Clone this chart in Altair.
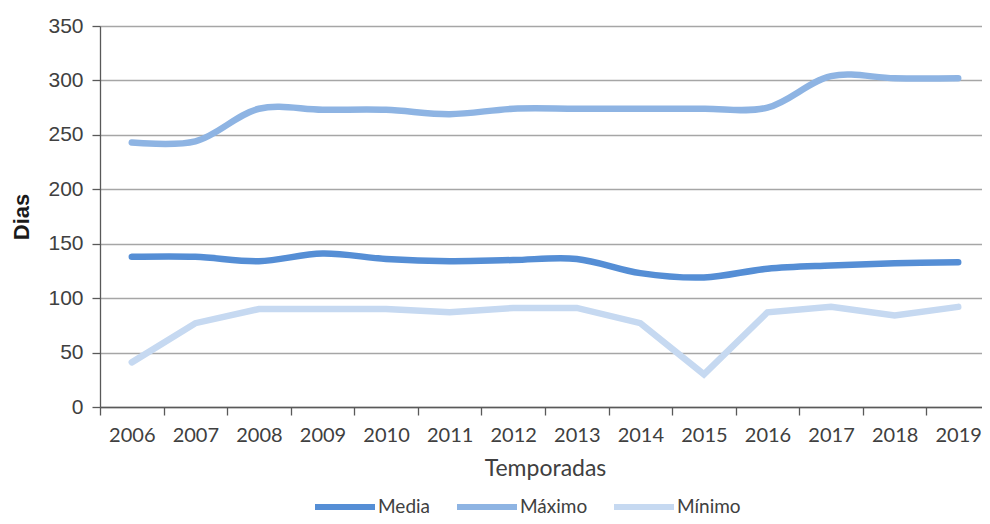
import altair as alt
import pandas as pd

years = [str(y) for y in range(2006, 2020)]
media = [138, 138, 134, 141, 136, 134, 135, 136, 123, 119, 127, 130, 132, 133]
maximo = [243, 244, 274, 273, 273, 269, 274, 274, 274, 274, 275, 304, 302, 302]
minimo = [41, 77, 90, 90, 90, 87, 91, 91, 77, 30, 87, 92, 84, 92]
series = ["Media", "Máximo", "Mínimo"]
colors = ["#558ED5", "#8EB4E3", "#C6D9F1"]
y_ticks = [0, 50, 100, 150, 200, 250, 300, 350]

rows = []
for name, vals in zip(series, [media, maximo, minimo]):
    for yr, v in zip(years, vals):
        rows.append({"Temporada": yr, "Serie": name, "Dias": v})
df = pd.DataFrame(rows)

color = alt.Color(
    "Serie:N",
    scale=alt.Scale(domain=series, range=colors),
    sort=series,
    legend=alt.Legend(
        title=None,
        orient="none",
        direction="horizontal",
        legendX=212,
        legendY=448,
        symbolType="stroke",
        symbolSize=3600,
        symbolStrokeWidth=6,
        labelFont="Lato",
        labelFontSize=19,
        labelColor="#404040",
        labelOffset=0,
        columnPadding=14,
        padding=0,
    ),
)

x = alt.X(
    "Temporada:N",
    sort=years,
    scale=alt.Scale(paddingInner=0, paddingOuter=0),
    axis=alt.Axis(
        title="Temporadas",
        labelAngle=0,
        tickBand="extent",
        tickSize=8,
        tickColor="#595959",
        domainColor="#595959",
        domainWidth=1.3,
        tickWidth=1.3,
        labelFont="Lato",
        labelFontSize=20,
        labelColor="#404040",
        labelPadding=10,
        titleFont="Lato",
        titleFontSize=23,
        titleFontWeight="normal",
        titleColor="#404040",
        titlePadding=12,
        grid=False,
    ),
)

y = alt.Y(
    "Dias:Q",
    scale=alt.Scale(domain=[0, 350], nice=False),
    axis=alt.Axis(
        title="Dias",
        values=y_ticks,
        tickSize=8,
        tickColor="#595959",
        domainColor="#595959",
        domainWidth=1.3,
        tickWidth=1.3,
        labelFont="Liberation Sans",
        labelFontSize=21,
        labelColor="#404040",
        labelPadding=9,
        titleFont="Liberation Sans",
        titleFontSize=22,
        titleFontWeight="bold",
        titleColor="#1a1a1a",
        titlePadding=14,
        grid=True,
        gridColor="#A6A6A6",
        gridWidth=1.3,
    ),
)

base = alt.Chart(df)

smooth = base.transform_filter(
    alt.FieldOneOfPredicate(field="Serie", oneOf=["Media", "Máximo"])
).mark_line(interpolate="catmull-rom", strokeWidth=6.5, strokeCap="round").encode(
    x=x, y=y, color=color, detail="Serie:N"
)

straight = base.transform_filter(
    alt.FieldEqualPredicate(field="Serie", equal="Mínimo")
).mark_line(interpolate="linear", strokeWidth=6.5, strokeCap="round").encode(
    x=x, y=y, color=color
)

chart = (
    alt.layer(smooth, straight)
    .properties(
        width=890,
        height=381,
        autosize=alt.AutoSizeParams(type="none"),
        padding={"left": 92, "top": 18, "right": -8, "bottom": 109},
        background="white",
    )
    .configure_view(stroke=None)
)

chart.save("out.html", embed_options={"renderer": "svg", "actions": False})
